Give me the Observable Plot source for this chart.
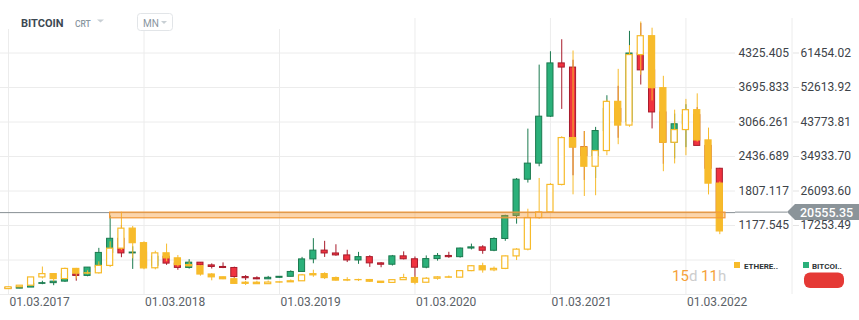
<!DOCTYPE html>
<html><head><meta charset="utf-8">
<script src="https://cdn.jsdelivr.net/npm/d3@7"></script>
<script src="https://cdn.jsdelivr.net/npm/@observablehq/plot@0.6"></script>
<style>
body{margin:0;background:#fff;font-family:Roboto,"Noto Sans",sans-serif;}
#chart{position:relative;width:859px;height:320px;overflow:hidden;}
</style></head><body><div id="chart"></div>
<script>
const months = ["2017-03","2017-04","2017-05","2017-06","2017-07","2017-08","2017-09","2017-10","2017-11","2017-12",
"2018-01","2018-02","2018-03","2018-04","2018-05","2018-06","2018-07","2018-08","2018-09","2018-10","2018-11","2018-12",
"2019-01","2019-02","2019-03","2019-04","2019-05","2019-06","2019-07","2019-08","2019-09","2019-10","2019-11","2019-12",
"2020-01","2020-02","2020-03","2020-04","2020-05","2020-06","2020-07","2020-08","2020-09","2020-10","2020-11","2020-12",
"2021-01","2021-02","2021-03","2021-04","2021-05","2021-06","2021-07","2021-08","2021-09","2021-10","2021-11","2021-12",
"2022-01","2022-02","2022-03","2022-04","2022-05","2022-06"];

// BITCOIN monthly candles
const btcOpen  = [1190,1080,1350,2300,2480,2875,4740,4340,6470,10230,13850,10100,10330,6930,9240,7490,6390,7730,7030,6630,6370,4040,3740,3460,3850,4110,5350,8570,10820,10090,9590,8300,9150,7550,7200,9350,8600,6440,8650,9450,9140,11350,11650,10780,13800,19700,28990,33110,45140,58790,57720,37300,35040,41460,47130,43820,61320,57000,46220,38480,43190,45530,37650,31790];
const btcHigh  = [1290,1350,2760,2980,2930,4770,4980,6470,11400,19700,17200,11800,11700,9760,9990,7770,8500,7760,7410,7680,6580,4410,4110,4210,4120,5640,9090,13880,13200,12320,10910,10370,9510,7740,9580,10500,9190,9460,10070,10390,11450,12480,12080,14100,19880,29300,41950,58350,61780,64850,59600,41330,42400,50500,52920,67000,69000,59100,47990,45800,48200,47450,40000,31900];
const btcLow   = [890,1060,1350,2080,1830,2670,2980,4110,5520,9700,9000,6000,6580,6430,7040,5780,6080,5880,6100,6200,3560,3160,3350,3390,3730,4080,5330,7450,9070,9360,7760,7300,6520,6430,6860,8440,3850,6160,8120,8840,8900,10990,9880,10540,13200,17600,28130,32300,44950,47000,30000,28800,29300,37300,39600,43300,53250,42000,32950,34300,37200,37700,26700,20080];
const btcClose = [1080,1350,2300,2480,2875,4740,4340,6470,10230,13850,10100,10330,6930,9240,7490,6390,7730,7030,6630,6370,4040,3740,3460,3850,4110,5350,8570,10820,10090,9590,8300,9150,7550,7200,9350,8600,6440,8650,9450,9140,11350,11650,10780,13800,19700,28990,33110,45140,58790,57720,37300,35040,41460,47130,43820,61320,57000,46220,38480,43190,45530,37650,31790,20555.35];

// ETHEREUM monthly candles
const ethOpen  = [17,50,79,230,290,200,385,300,305,440,755,1120,855,397,670,578,455,433,283,232,197,113,133,107,136,141,160,268,290,218,172,180,182,152,130,180,218,133,206,231,226,345,434,360,386,614,737,1314,1417,1918,2773,2600,2250,2536,3434,3001,4288,4632,3683,2688,2919,3282,2730,1942];
const ethHigh  = [55,80,230,420,300,400,395,350,515,880,1420,1160,880,709,838,629,516,436,300,237,225,159,160,165,147,184,285,361,315,238,225,198,193,153,184,288,253,227,245,256,349,445,489,420,622,755,1475,2036,1943,2797,4362,2891,2550,3466,4027,4460,4891,4778,3900,3282,3479,3580,2955,1972];
const ethLow   = [16,48,78,200,150,190,200,280,290,410,720,570,370,368,517,418,424,253,168,189,102,82,102,102,126,140,158,232,191,162,153,155,138,117,127,180,95,130,179,216,224,335,308,334,372,538,714,1290,1400,1900,1737,1707,1721,2451,2652,2970,3919,3450,2159,2301,2451,2700,1735,1010];
const ethClose = [50,79,230,290,200,385,300,305,440,755,1120,855,395,669,578,455,433,283,232,197,113,133,107,136,141,160,268,290,218,172,180,182,152,130,180,218,133,206,231,226,345,434,360,386,614,737,1314,1417,1918,2773,2600,2250,2536,3434,3001,4288,4632,3683,2688,2919,3282,2730,1942,1070];

// axes
const ethTicks = [4325.405,3695.833,3066.261,2436.689,1807.117,1177.545];
const btcTicks = [61454.02,52613.92,43773.81,34933.70,26093.60,17253.49];
const xTickMonths = ["2017-03","2018-03","2019-03","2020-03","2021-03","2022-03"];
const xTickLabels = ["01.03.2017","01.03.2018","01.03.2019","01.03.2020","01.03.2021","01.03.2022"];

// last price and highlighted zone (BTC units)
const btcLast = 20555.35;
const zoneFrom = "2017-12", zoneTo = "2022-06";
const zoneLow = 19100, zoneHigh = 20555.35;
const seriesNames = ["ETHERE..","BITCOI.."];

// ---- helpers
const idx = m => months.indexOf(m);
const ethLo = ethTicks[ethTicks.length-1], ethHi = ethTicks[0];
const btcLo = btcTicks[btcTicks.length-1], btcHi = btcTicks[0];
const kk = (ethHi-ethLo)/(btcHi-btcLo);
const b2e = v => ethLo + (v-btcLo)*kk;
const step = (ethHi-ethLo)/(ethTicks.length-1);
const gridVals = d3.range(-2, ethTicks.length).map(j => ethLo + j*step);

const btc = months.map((m,i)=>({i, o:btcOpen[i], h:btcHigh[i], l:btcLow[i], c:btcClose[i]}));
const eth = months.map((m,i)=>({i, o:ethOpen[i], h:ethHigh[i], l:ethLow[i], c:ethClose[i]}));
const zone = [{x1: idx(zoneFrom), x2: idx(zoneTo)+0.5, y1: b2e(zoneLow), y2: b2e(zoneHigh)}];

const G = "#2bb07a", GD = "#1b7a4f", R = "#f0323f", RD = "#a81b2b", Y = "#f7bb2b";
const hw = 0.27;
const btcFmt = new Map(btcTicks.map(t => [b2e(t), d3.format(".2f")(t)]));
const xFmt = new Map(xTickMonths.map((m,i)=>[idx(m), xTickLabels[i]]));

const chart = Plot.plot({
  width: 859, height: 320,
  marginLeft: 0, marginRight: 124, marginTop: 18, marginBottom: 26,
  x: {type: "linear", domain: [-0.71, months.length + 0.39], axis: null},
  y: {domain: [ethLo - 2*step, ethHi + step], axis: null},
  style: {fontFamily: "Roboto, sans-serif", fontSize: "12px", background: "white", overflow: "visible"},
  marks: [
    Plot.gridY(gridVals, {stroke: "#ececec", strokeOpacity: 1}),
    Plot.gridX(xTickMonths.map(idx), {stroke: "#ececec", strokeOpacity: 1}),
    Plot.ruleY([b2e(btcLast)], {stroke: "#878f94"}),
    Plot.ruleX(btc, {x: "i", y1: d => b2e(d.l), y2: d => b2e(d.h), stroke: d => d.c >= d.o ? GD : RD}),
    Plot.rect(btc, {x1: d => d.i - hw, x2: d => d.i + hw, y1: d => b2e(d.o), y2: d => b2e(d.c),
      fill: d => d.c >= d.o ? G : R, stroke: d => d.c >= d.o ? GD : RD, strokeWidth: 1}),
    Plot.ruleX(eth, {x: "i", y1: "l", y2: "h", stroke: Y}),
    Plot.rect(eth, {x1: d => d.i - hw, x2: d => d.i + hw, y1: "o", y2: "c",
      fill: d => d.c >= d.o ? "white" : Y, stroke: Y, strokeWidth: 1.2}),
    Plot.rect(zone, {x1: "x1", x2: "x2", y1: "y1", y2: "y2", fill: "#f99a36", fillOpacity: 0.42, stroke: "#f39a3a", strokeWidth: 1.2}),
    Plot.axisY(ethTicks, {anchor: "right", tickSize: 0, tickPadding: 3, tickFormat: d3.format(".3f"), fill: "#3d4349", stroke: "none"}),
    Plot.axisY(btcTicks.map(b2e), {anchor: "right", tickSize: 6, tickPadding: 2, dx: 57, tickFormat: d => btcFmt.get(d), fill: "#3d4349", stroke: "#e3e3e3"}),
    Plot.axisX(xTickMonths.map(idx), {anchor: "bottom", tickSize: 0, tickPadding: 3, textAnchor: "start", dx: 1, tickFormat: d => xFmt.get(d), fill: "#5b6167"})
  ]
});
document.getElementById("chart").appendChild(chart);

// ---- overlays positioned through the chart's scales
const svg = d3.select(chart);
const ov = svg.append("g").attr("text-anchor", "start");
const xs = chart.scale("x"), ys = chart.scale("y");
const yp = ys.apply(b2e(btcLast));
const xr = xs.apply(xs.domain[1]);
const yTop = ys.apply(ys.domain[1]), yBot = ys.apply(ys.domain[0]);
const sepX = xr + 57;

ov.append("line").attr("x1", sepX).attr("x2", sepX).attr("y1", yTop).attr("y2", yBot).attr("stroke", "#ececec");
ov.append("line").attr("x1", xr).attr("x2", sepX - 5).attr("y1", yp).attr("y2", yp).attr("stroke", "#878f94");
ov.append("path").attr("d", `M${sepX-5},${yp} L${sepX+3},${yp-8} H859 V${yp+8} H${sepX+3} Z`).attr("fill", "#8b9499");
ov.append("text").attr("text-anchor", "start").attr("x", sepX + 8).attr("y", yp + 4.5).attr("fill", "white").attr("font-size", 12.5).attr("font-weight", 500).text(d3.format(".2f")(btcLast));

// header
ov.append("rect").attr("x", 0).attr("y", 0).attr("width", 290).attr("height", 29).attr("fill", "white");
ov.append("text").attr("text-anchor", "start").attr("x", 21).attr("y", 27.3).attr("font-size", 11).attr("font-weight", 700).attr("fill", "#3c4852").text("BITCOIN");
ov.append("text").attr("text-anchor", "start").attr("x", 75).attr("y", 27).attr("font-size", 8.5).attr("font-weight", 500).attr("fill", "#8a969f").text("CRT");
ov.append("path").attr("d", "M97,19.5 H104 L100.5,22.5 Z").attr("fill", "#c8cfd4");
ov.append("rect").attr("x", 137.5).attr("y", 13.5).attr("width", 35).attr("height", 17).attr("rx", 3).attr("fill", "white").attr("stroke", "#e2e5e8");
ov.append("text").attr("text-anchor", "start").attr("x", 143).attr("y", 26.5).attr("font-size", 10).attr("fill", "#8a969f").text("MN");
ov.append("path").attr("d", "M161,21 H167 L164,24 Z").attr("fill", "#c8cfd4");

// legend
ov.append("rect").attr("x", 734).attr("y", 262).attr("width", 6).attr("height", 6).attr("fill", Y);
ov.append("text").attr("text-anchor", "start").attr("x", 744).attr("y", 269).attr("font-size", 8).attr("font-weight", 700).attr("fill", "#2d3436").text(seriesNames[0]);
ov.append("rect").attr("x", 803).attr("y", 262).attr("width", 6).attr("height", 6).attr("fill", G);
ov.append("text").attr("text-anchor", "start").attr("x", 812).attr("y", 269).attr("font-size", 8).attr("font-weight", 700).attr("fill", "#2d3436").text(seriesNames[1]);
ov.append("rect").attr("x", 804).attr("y", 272.5).attr("width", 40).attr("height", 15.5).attr("rx", 6).attr("fill", "#e53935");

// countdown
const cd = ov.append("text").attr("text-anchor", "start").attr("x", 672).attr("y", 281).attr("font-size", 15);
cd.append("tspan").attr("fill", "#f5a13a").text("15");
cd.append("tspan").attr("fill", "#cdcdcd").text("d ");
cd.append("tspan").attr("fill", "#f5a13a").text("11");
cd.append("tspan").attr("fill", "#cdcdcd").text("h");
</script></body></html>
